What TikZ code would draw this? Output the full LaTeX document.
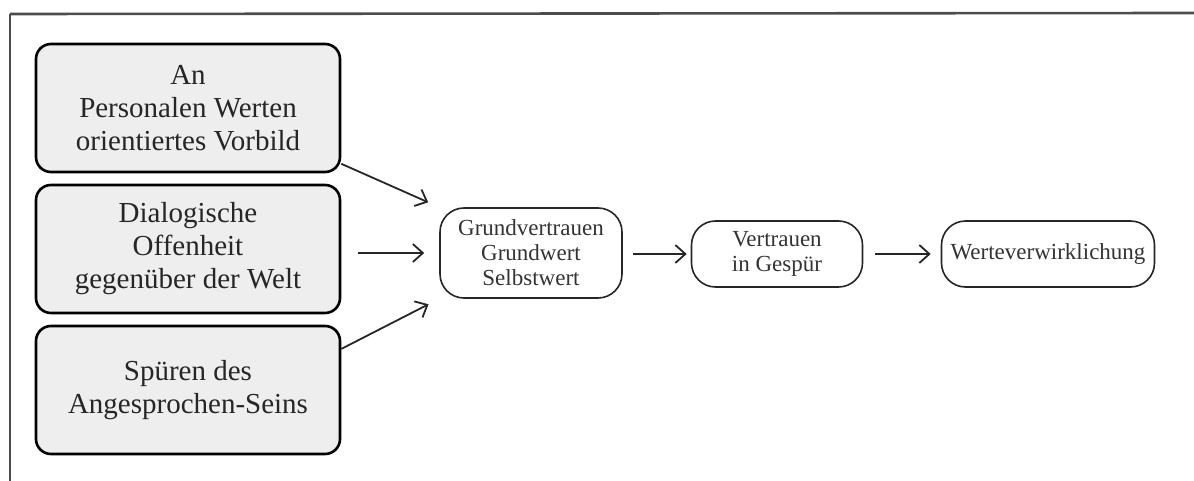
\documentclass[tikz,border=0pt]{standalone}
\usepackage{fontspec}
\setmainfont{Liberation Serif}
\usetikzlibrary{arrows.meta}

\begin{document}
\begin{tikzpicture}
[x = 0.5pt, y = -0.5pt,
 frame/.style = {draw = black!70},
 factor/.style = {draw = black, line width = 1.3pt, fill = gray!13, rounded corners = 7.5pt,
                  minimum width = 152pt, minimum height = 64pt, align = center,
                  text = black!85, font = \rmfamily\fontsize{14.5}{16.5}\selectfont},
 stage/.style = {draw = black!85, line width = 0.8pt, rounded corners = 12pt, align = center,
                 minimum height = 33pt, text = black!80, font = \rmfamily\fontsize{11.5}{12.5}\selectfont},
 flow/.style = {draw = black!85, line width = 0.9pt, -{Straight Barb[length=5pt,width=9pt]}}
 ]
\useasboundingbox (0,0) rectangle (1194,481);
\draw [frame, line width = 1.3pt] (10,14) -- (1194,13);
\draw [frame, line width = 0.6pt] (10,14) -- (10,481);
\node [factor] (vorbild) at (188,108) {An\\Personalen Werten\\orientiertes Vorbild};
\node [factor] (offenheit) at (188,249) {Dialogische\\Offenheit\\gegenüber der Welt};
\node [factor] (spueren) at (188,390) {Spüren des\\Angesprochen-Seins};
\node [stage, minimum width = 91pt, minimum height = 45pt] (grund) at (531,253) {Grundvertrauen\\Grundwert\\Selbstwert};
\node [stage, minimum width = 85.5pt] (gespuer) at (777,254) {Vertrauen\\in Gespür};
\node [stage, minimum width = 106.5pt] (werte) at (1048,254) {Werteverwirklichung};
\draw [flow, shorten > = 6pt] (vorbild.-20) -- (grund.north west);
\draw [flow, shorten < = 8.5pt, shorten > = 7.5pt] (offenheit.east |- grund.west) -- (grund.west);
\draw [flow, shorten > = 6pt] (spueren.15) -- (grund.south west);
\draw [flow, shorten < = 5pt, shorten > = 2pt] (grund.east |- gespuer.west) -- (gespuer.west);
\draw [flow, shorten < = 6pt, shorten > = 5pt] (gespuer) -- (werte);
\end{tikzpicture}
\end{document}
